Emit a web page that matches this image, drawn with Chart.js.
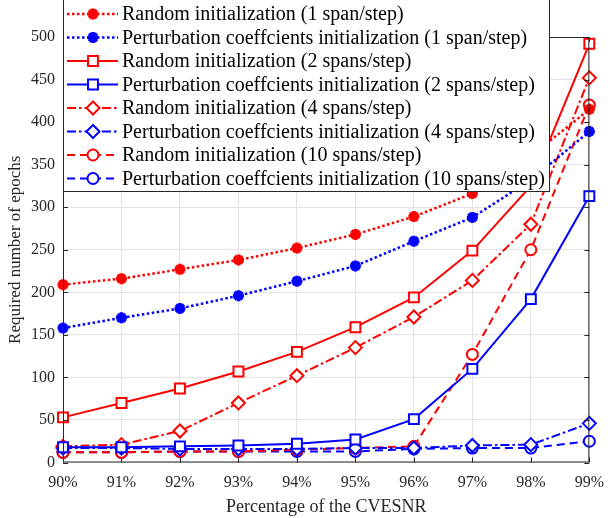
<!DOCTYPE html>
<html>
<head>
<meta charset="utf-8">
<script src="https://cdn.jsdelivr.net/npm/chart.js@4.4.1/dist/chart.umd.min.js"></script>
<style>
  html, body { margin: 0; padding: 0; background: #fff; }
  #wrap { width: 615px; height: 518px; }
</style>
</head>
<body>
<div id="wrap"><canvas id="teh_canvas" width="615" height="518"></canvas></div>
<script>
var snrLabels = ['90%', '91%', '92%', '93%', '94%', '95%', '96%', '97%', '98%', '99%'];

var randSpan1  = [209, 216, 227, 238, 252, 268, 289, 316, 360, 415];
var pertSpan1  = [158, 170, 181, 196, 213, 231, 260, 288, 332, 389];
var randSpan2  = [53, 70, 87, 107, 130, 159, 194, 249, 325, 492];
var pertSpan2  = [18, 18, 19, 20, 22, 27, 51, 110, 192, 313];
var randSpan4  = [19, 21, 37, 70, 102, 135, 171, 214, 280, 452];
var pertSpan4  = [17, 17, 16, 16, 16, 17, 17, 20, 21, 46];
var randSpan10 = [12, 12, 13, 13, 15, 17, 19, 127, 250, 420];
var pertSpan10 = [12, 12, 13, 13, 13, 13, 16, 17, 17, 25];

var seriesNames = [
    'Random initialization (1 span/step)',
    'Perturbation coeffcients initialization (1 span/step)',
    'Random initialization (2 spans/step)',
    'Perturbation coeffcients initialization (2 spans/step)',
    'Random initialization (4 spans/step)',
    'Perturbation coeffcients initialization (4 spans/step)',
    'Random initialization (10 spans/step)',
    'Perturbation coeffcients initialization (10 spans/step)'
];

var RED = '#ff0000', BLUE = '#0000ff', AXIS = '#262626';
var dotted = [2.5, 2.5], dashDot = [9, 3, 2.5, 3], dashed = [8, 5];

function mkSeries(idx, data, color, dash, style, radius, bw, lw) {
    return {
        label: seriesNames[idx],
        data: data,
        borderColor: color,
        borderWidth: lw,
        borderDash: dash,
        pointStyle: style,
        pointRadius: radius,
        pointBorderWidth: bw,
        pointBorderColor: color,
        pointBackgroundColor: style == 'star' ? color : '#ffffff',
        fill: false,
        tension: 0,
        clip: false
    };
}

var datasets = [
    mkSeries(0, randSpan1, RED, dotted, 'star', 5.5, 3.5, 2.5),
    mkSeries(1, pertSpan1, BLUE, dotted, 'star', 5.5, 3.5, 2.5),
    mkSeries(2, randSpan2, RED, [], 'rect', 7, 2, 2),
    mkSeries(3, pertSpan2, BLUE, [], 'rect', 7, 2, 2),
    mkSeries(4, randSpan4, RED, dashDot, 'rectRot', 6.5, 2, 2),
    mkSeries(5, pertSpan4, BLUE, dashDot, 'rectRot', 6.5, 2, 2),
    mkSeries(6, randSpan10, RED, dashed, 'circle', 5.5, 2, 2),
    mkSeries(7, pertSpan10, BLUE, dashed, 'circle', 5.5, 2, 2)
];

function drawMarker(ctx, ds, x, y, scale) {
    ctx.save();
    ctx.setLineDash([]);
    ctx.strokeStyle = ds.pointBorderColor;
    ctx.fillStyle = ds.pointBackgroundColor;
    ctx.lineWidth = ds.pointBorderWidth;
    Chart.helpers.drawPoint(ctx, {
        pointStyle: ds.pointStyle,
        radius: ds.pointRadius * scale,
        borderWidth: ds.pointBorderWidth,
        rotation: 0
    }, x, y);
    ctx.restore();
}

// frame, inward ticks and the legend box, matlab style
var matlabFrame = {
    id: 'matlabFrame',
    afterDraw: function(chart) {
        var ctx = chart.ctx, a = chart.chartArea;
        var xs = chart.scales.x, ys = chart.scales.y;
        ctx.save();
        ctx.strokeStyle = AXIS;
        ctx.lineWidth = 1;
        ctx.beginPath();
        ctx.rect(a.left + 0.5, a.top + 0.5, a.right - a.left - 1, a.bottom - a.top - 1);
        ys.ticks.forEach(function(t, i) {
            var py = Math.round(ys.getPixelForTick(i)) + 0.5;
            ctx.moveTo(a.left, py); ctx.lineTo(a.left + 5, py);
            ctx.moveTo(a.right, py); ctx.lineTo(a.right - 5, py);
        });
        xs.ticks.forEach(function(t, i) {
            var px = Math.round(xs.getPixelForTick(i)) + 0.5;
            ctx.moveTo(px, a.bottom); ctx.lineTo(px, a.bottom - 5);
            ctx.moveTo(px, a.top); ctx.lineTo(px, a.top + 5);
        });
        ctx.stroke();

        // legend
        var lx = a.left, rx = 550, top = -5, bottom = 192;
        ctx.fillStyle = '#ffffff';
        ctx.fillRect(lx, top, rx - lx, bottom - top);
        ctx.strokeRect(lx + 0.5, top + 0.5, rx - lx - 1, bottom - top - 1);
        ctx.font = '20px "Liberation Serif", "Times New Roman", serif';
        ctx.textBaseline = 'middle';
        ctx.textAlign = 'left';
        chart.data.datasets.forEach(function(ds, i) {
            var y = 14 + i * 23.5;
            ctx.save();
            ctx.strokeStyle = ds.borderColor;
            ctx.lineWidth = ds.borderWidth;
            ctx.setLineDash(ds.borderDash);
            ctx.beginPath();
            ctx.moveTo(67, y); ctx.lineTo(118, y);
            ctx.stroke();
            ctx.restore();
            drawMarker(ctx, ds, 93, y, 1);
            ctx.fillStyle = '#000000';
            ctx.fillText(ds.label, 122, y + 1);
        });
        ctx.restore();
    }
};

var tickFont = { family: '"Liberation Serif", "Times New Roman", serif', size: 16 };

new Chart(document.getElementById('teh_canvas'), {
    type: 'line',
    data: { labels: snrLabels, datasets: datasets },
    options: {
        responsive: false,
        animation: false,
        devicePixelRatio: 1,
        layout: { padding: { top: 37, right: 12, left: 0, bottom: 0 } },
        plugins: { legend: { display: false }, tooltip: { enabled: false } },
        scales: {
            x: {
                offset: false,
                grid: { color: '#e3e3e3', drawTicks: false },
                border: { display: false },
                ticks: { color: AXIS, font: tickFont, padding: 11, maxRotation: 0, autoSkip: false },
                title: { display: true, text: 'Percentage of the CVESNR', color: AXIS,
                         font: { family: tickFont.family, size: 18 }, padding: { top: 0, bottom: 0 } },
                afterFit: function(s) { s.height = 55.5; }
            },
            y: {
                min: 0, max: 500,
                grid: { color: '#e3e3e3', drawTicks: false },
                border: { display: false },
                ticks: { stepSize: 50, color: AXIS, font: tickFont, padding: 8 },
                title: { display: true, text: 'Required number of epochs', color: AXIS,
                         font: { family: tickFont.family, size: 17 }, padding: { top: 5, bottom: 0 } },
                afterFit: function(s) { s.width = 63; }
            }
        }
    },
    plugins: [matlabFrame]
});
</script>
</body>
</html>
